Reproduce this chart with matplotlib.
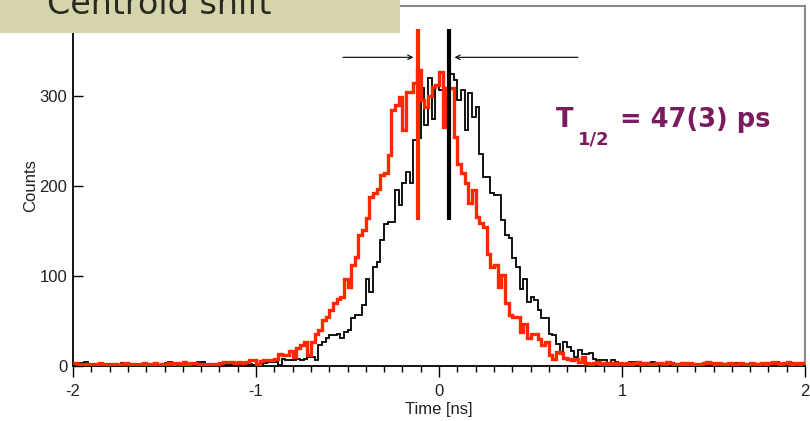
import numpy as np
import matplotlib
matplotlib.use('Agg')
import matplotlib.pyplot as plt
from matplotlib.patches import Rectangle
from matplotlib.ticker import MultipleLocator

# ---------------- data ----------------
time_range = (-2.0, 2.0)
n_bins = 200

red_counts = [
    3, 2, 1, 2, 2, 1, 2, 3, 2, 1, 2, 2, 1, 2, 3, 2, 2, 1, 2, 3, 2, 2, 3, 1, 2, 2, 3, 2, 3, 2, 4, 2, 3, 3, 2,
    2, 2, 2, 2, 2, 3, 4, 4, 4, 3, 4, 3, 5, 7, 7,
    2, 6, 7, 7, 7, 8, 13, 12, 12, 17, 10, 20,
    23, 27, 12, 27, 36, 40, 51, 55, 62, 70, 75, 77, 97,
    88, 112, 121, 146, 151, 164, 188, 192, 197, 212, 214, 234,
    284, 290, 299, 262, 304, 304, 314, 329, 296, 288, 300, 310, 312,
    327, 266, 309, 309, 255, 225, 215, 203, 181, 196, 166, 159,
    155, 125, 110, 112, 88, 101, 70, 57, 55, 55, 38, 47, 31, 36, 36, 30, 23, 27, 12, 8, 16,
    14, 9, 8, 7, 8, 5, 10, 3, 2, 3, 4, 2, 3, 2, 3, 2, 3,
    2, 3, 2, 3, 4, 2, 3, 2, 2, 3, 3, 2, 4, 3, 2, 2, 3, 2, 3, 2, 2, 2, 3, 4, 3,
    2, 3, 2, 2, 3, 2, 2, 3, 2, 2, 3, 2, 2, 3, 2, 3, 4, 3, 2, 3, 4, 2, 3, 2, 3,
]

black_counts = [
    1, 2, 3, 5, 2, 2, 1, 2, 1, 2, 1, 2, 1, 3, 1, 2, 1, 2, 2, 3, 2, 1, 2, 1, 2, 3, 4, 2, 1, 2, 1, 2, 3, 2, 4,
    4, 2, 1, 2, 1, 2, 1, 2, 1, 2, 1, 2, 1, 2, 1,
    0, 0, 3, 4, 4, 4, 1, 8, 7, 7, 7, 8,
    7, 8, 10, 10, 7, 23, 27, 31, 34, 35, 36, 31, 38,
    40, 53, 57, 57, 68, 97, 82, 110, 116, 140, 158, 160,
    160, 196, 179, 203, 216, 203, 251, 253, 309, 268, 320, 275, 312,
    307, 307, 307, 325, 318, 296, 307, 262, 303, 277, 288, 236,
    210, 210, 192, 190, 190, 162, 146, 142, 120, 110, 86, 97, 71, 77, 73, 62, 53, 53, 36, 34, 25,
    14, 27, 21, 17, 10, 18, 13, 13, 14, 8, 7, 7, 7, 3, 7, 5, 3,
    0, 3, 4, 4, 2, 3, 1, 2, 4, 2, 1, 2, 3, 2, 1, 2, 1, 3, 2, 2, 1, 2, 2, 1, 3,
    2, 1, 2, 2, 1, 2, 3, 1, 2, 2, 1, 2, 1, 3, 2, 2, 1, 4, 2, 1, 2, 3, 1, 2, 1,
]

red_centroid = -0.115
black_centroid = 0.055
centroid_line_span = (162, 375)

arrow_y = 343
left_arrow = (-0.525, -0.14)   # from, to
right_arrow = (0.76, 0.085)    # from, to

x_ticks = [-2, -1, 0, 1, 2]
y_ticks = [0, 100, 200, 300]
y_limits = (0, 400)

title_text = "Centroid shift"
halflife_main = "T"
halflife_sub = "1/2"
halflife_rest = "= 47(3) ps"

# ---------------- style ----------------
RED = '#FF2800'
PURPLE = '#7B1B5F'
TAN = '#D5D4AB'
W, H = 810, 421

fig = plt.figure(figsize=(W / 100, H / 100), dpi=100)
fig.patch.set_facecolor('white')

ax_l, ax_r, ax_t, ax_b = 73, 805, 6, 366
ax = fig.add_axes([ax_l / W, 1 - ax_b / H, (ax_r - ax_l) / W, (ax_b - ax_t) / H])

edges = np.linspace(time_range[0], time_range[1], n_bins + 1)
ax.stairs(black_counts, edges, color='black', lw=1.3, baseline=None, zorder=3)
ax.stairs(red_counts, edges, color=RED, lw=2.4, baseline=None, zorder=4)

ax.vlines([red_centroid], *centroid_line_span, color=RED, lw=3.0, zorder=5)
ax.vlines([black_centroid], *centroid_line_span, color='black', lw=3.0, zorder=5)

ax.annotate('', xy=(left_arrow[1], arrow_y), xytext=(left_arrow[0], arrow_y),
            arrowprops=dict(arrowstyle='->', lw=0.8, color='black',
                            shrinkA=0, shrinkB=0, mutation_scale=8))
ax.annotate('', xy=(right_arrow[1], arrow_y), xytext=(right_arrow[0], arrow_y),
            arrowprops=dict(arrowstyle='->', lw=0.8, color='black',
                            shrinkA=0, shrinkB=0, mutation_scale=8))

ax.set_xlim(*time_range)
ax.set_ylim(*y_limits)
ax.set_xticks(x_ticks)
ax.set_xticklabels([str(v) for v in x_ticks])
ax.set_yticks(y_ticks)
ax.set_yticklabels([str(v) for v in y_ticks])
ax.xaxis.set_minor_locator(MultipleLocator(0.1))

lab_font = dict(family='Liberation Sans', size=12, color='#222222')
for lbl in ax.get_xticklabels() + ax.get_yticklabels():
    lbl.set_fontfamily('Liberation Sans')
    lbl.set_fontsize(12)
    lbl.set_color('#222222')

ax.tick_params(axis='x', which='major', direction='out', length=8, width=1, pad=5)
ax.tick_params(axis='x', which='minor', direction='out', length=4.3, width=1)
ax.tick_params(axis='y', which='major', direction='in', length=7, width=1, pad=4)

ax.set_xlabel('Time [ns]', fontdict=lab_font, labelpad=2)
ax.set_ylabel('Counts', fontdict=lab_font, labelpad=1)

for s in ['left', 'bottom']:
    ax.spines[s].set_color('black')
    ax.spines[s].set_linewidth(1.3)
for s in ['top', 'right']:
    ax.spines[s].set_color('#8a8a8a')
    ax.spines[s].set_linewidth(1.5)

# tan title box, partially cut off at the top of the figure (as in the reference)
box = Rectangle((0, 1 - 33 / H), 400 / W, 33 / H, transform=fig.transFigure,
                facecolor=TAN, edgecolor='none', zorder=10)
fig.add_artist(box)
fig.text(47 / W, 1 - 14 / H, title_text, family='DejaVu Sans', fontsize=24,
         color='#2a2a22', ha='left', va='baseline', zorder=11)

# half-life annotation
fig.text(556 / W, 1 - 127 / H, halflife_main, family='DejaVu Sans', weight='bold',
         fontsize=18.5, color=PURPLE, ha='left', va='baseline', zorder=11)
fig.text(578 / W, 1 - 145 / H, halflife_sub, family='DejaVu Sans', weight='bold',
         fontsize=13, color=PURPLE, ha='left', va='baseline', zorder=11)
fig.text(620 / W, 1 - 127 / H, halflife_rest, family='DejaVu Sans', weight='bold',
         fontsize=18.5, color=PURPLE, ha='left', va='baseline', zorder=11)

fig.savefig('out.png', dpi=100)
